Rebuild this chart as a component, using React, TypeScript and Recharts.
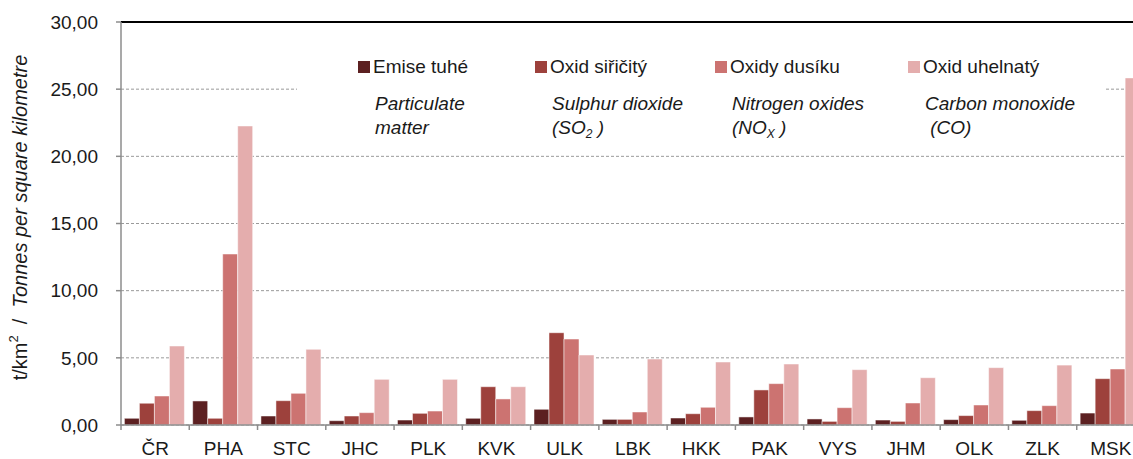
import { BarChart, Bar, XAxis, YAxis, CartesianGrid, ReferenceLine, Legend } from "recharts";

const regions = ["ČR", "PHA", "STC", "JHC", "PLK", "KVK", "ULK", "LBK", "HKK", "PAK", "VYS", "JHM", "OLK", "ZLK", "MSK"];

const particulate = [0.5, 1.79, 0.67, 0.32, 0.37, 0.5, 1.17, 0.42, 0.52, 0.6, 0.45, 0.37, 0.4, 0.35, 0.89];
const sulphurDioxide = [1.62, 0.5, 1.81, 0.67, 0.87, 2.85, 6.87, 0.42, 0.84, 2.61, 0.27, 0.27, 0.7, 1.07, 3.45];
const nitrogenOxides = [2.16, 12.73, 2.36, 0.92, 1.04, 1.94, 6.4, 0.97, 1.32, 3.08, 1.29, 1.64, 1.49, 1.44, 4.17];
const carbonMonoxide = [5.88, 22.26, 5.63, 3.4, 3.4, 2.85, 5.21, 4.91, 4.69, 4.54, 4.12, 3.52, 4.27, 4.46, 25.84];

const seriesKeys = ["pm", "so2", "nox", "co"];
const seriesNames = ["Emise tuhé", "Oxid siřičitý", "Oxidy dusíku", "Oxid uhelnatý"];
const seriesColors = ["#5c2021", "#9d413c", "#cc7371", "#e4adad"];
const englishLine1 = ["Particulate", "Sulphur dioxide", "Nitrogen oxides", "Carbon monoxide"];
const englishLine2 = [
  { pre: "matter", sub: "", post: "" },
  { pre: "(SO", sub: "2", post: "\u00a0)" },
  { pre: "(NO", sub: "X", post: "\u00a0)" },
  { pre: "\u00a0(CO)", sub: "", post: "" },
];
const yTicks = [0, 5, 10, 15, 20, 25, 30];

const data = regions.map((region, i) => ({
  region,
  pm: particulate[i],
  so2: sulphurDioxide[i],
  nox: nitrogenOxides[i],
  co: carbonMonoxide[i],
}));

const FONT = "'Liberation Sans', Arial, sans-serif";
const TEXT = "#1a1a1a";

function RegionTick(props: any) {
  const { x, y, payload } = props;
  const half = payload.offset || props.width / props.visibleTicksCount / 2;
  return (
    <g>
      <line x1={x - half} x2={x - half} y1={y - 17} y2={y - 12} stroke="#8c8c8c" strokeWidth={1.5} />
      <text x={x} y={y} dy="0.71em" textAnchor="middle" fontSize={19} fontFamily={FONT} fill={TEXT}>
        {payload.value}
      </text>
    </g>
  );
}

function YLabel(props: any) {
  const vb = props.viewBox;
  const cx = vb.x + 20;
  const cy = vb.y + vb.height / 2 - 6;
  return (
    <text
      x={cx}
      y={cy}
      transform={`rotate(-90, ${cx}, ${cy})`}
      textAnchor="middle"
      dominantBaseline="central"
      fontSize={20}
      fontFamily={FONT}
      fill={TEXT}
    >
      <tspan>t/km</tspan>
      <tspan dy={-7} fontSize={13}>2</tspan>
      <tspan dy={7}>{"\u00a0\u00a0/\u00a0\u00a0"}</tspan>
      <tspan fontStyle="italic">Tonnes per square kilometre</tspan>
    </text>
  );
}

// legend drawn in series order (Recharts would sort the payload by name)
function LegendBox() {
  const widths = [177, 180, 193, 190];
  return (
    <div
      style={{
        background: "#fff",
        fontFamily: FONT,
        fontSize: 19,
        color: TEXT,
        paddingTop: 10,
        paddingLeft: 61,
        height: 105,
        boxSizing: "border-box",
        display: "flex",
      }}
    >
      {seriesNames.map((name, i) => (
        <div key={name} style={{ width: widths[i] }}>
          <div style={{ height: 24, display: "flex", alignItems: "center", whiteSpace: "nowrap" }}>
            <span style={{ width: 12, height: 12, background: seriesColors[i], display: "inline-block", marginRight: 3 }} />
            {name}
          </div>
          <div style={{ marginTop: 13, paddingLeft: 17, fontStyle: "italic", lineHeight: "24px", whiteSpace: "nowrap" }}>
            <div>{englishLine1[i]}</div>
            <div>
              {englishLine2[i].pre}
              {englishLine2[i].sub && <sub style={{ fontSize: 12, verticalAlign: "-4px" }}>{englishLine2[i].sub}</sub>}
              {englishLine2[i].post}
            </div>
          </div>
        </div>
      ))}
    </div>
  );
}

export default function App() {
  return (
    <div style={{ position: "absolute", left: 0, top: 0, width: 1133, height: 459, overflow: "hidden", background: "#fff" }}>
      <BarChart
        width={1150}
        height={459}
        data={data}
        margin={{ top: 22, right: 5, bottom: 0, left: 0 }}
        barCategoryGap="5%"
        barGap={0}
      >
        <CartesianGrid vertical={false} stroke="#9a9a9a" strokeDasharray="3 2" />
        <XAxis
          dataKey="region"
          height={34}
          tickLine={false}
          tickSize={0}
          tickMargin={17}
          axisLine={{ stroke: "#8c8c8c", strokeWidth: 1.5 }}
          tick={<RegionTick />}
          interval={0}
        />
        <YAxis
          width={121}
          domain={[0, 30]}
          ticks={yTicks}
          tickSize={5}
          tickMargin={18}
          tickFormatter={(v: number) => v.toFixed(2).replace(".", ",")}
          tick={{ fontSize: 19, fontFamily: FONT, fill: TEXT }}
          tickLine={{ stroke: "#8c8c8c", strokeWidth: 1.5 }}
          axisLine={{ stroke: "#8c8c8c", strokeWidth: 1.5 }}
          label={{ content: (p: any) => <YLabel {...p} /> }}
        />
        <ReferenceLine y={30} stroke="#000" strokeWidth={2} />
        <Legend
          layout="horizontal"
          verticalAlign="middle"
          align="center"
          content={() => <LegendBox />}
          wrapperStyle={{ top: 45, left: 297, width: 808, height: 105 }}
        />
        {seriesKeys.map((key, i) => (
          <Bar
            key={key}
            dataKey={key}
            name={seriesNames[i]}
            fill={seriesColors[i]}
            stroke="#ffffff"
            strokeWidth={0.5}
            isAnimationActive={false}
          />
        ))}
      </BarChart>
    </div>
  );
}
